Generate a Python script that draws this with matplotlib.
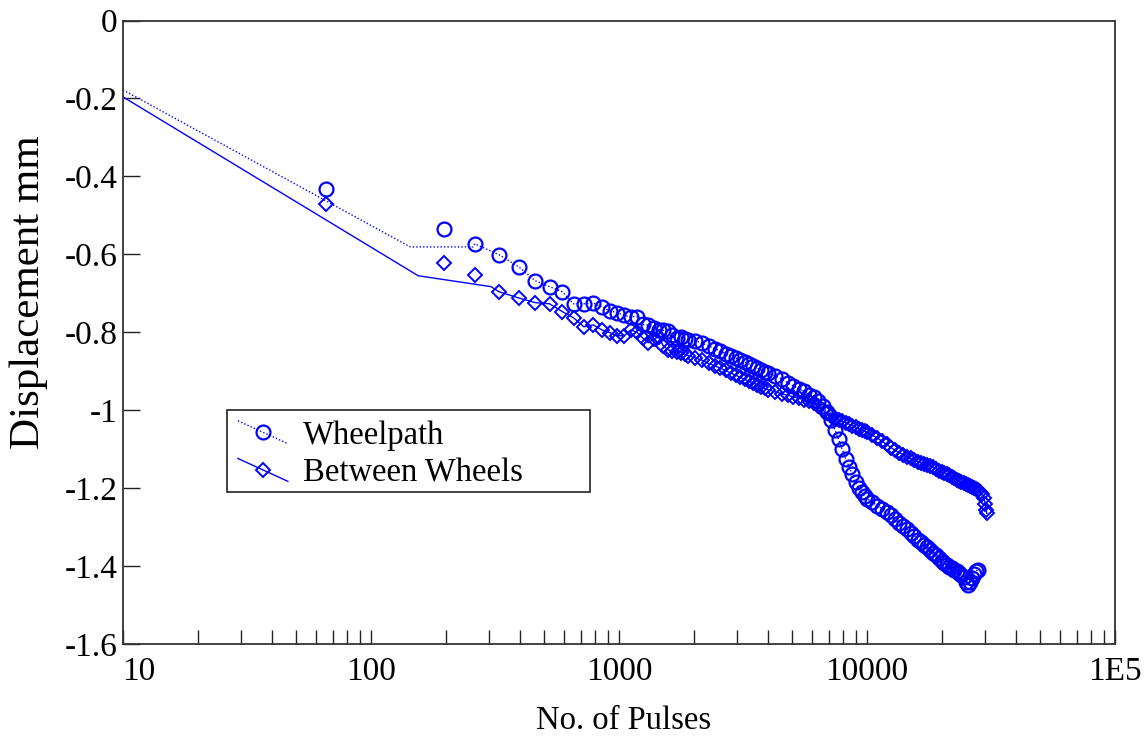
import numpy as np
import matplotlib
matplotlib.use("Agg")
import matplotlib.pyplot as plt
import matplotlib.ticker as mticker
import matplotlib.transforms as mtransforms
from matplotlib.legend_handler import HandlerLine2D
from matplotlib.patches import Rectangle

plt.rcParams["font.family"] = ["Liberation Serif", "DejaVu Serif"]
plt.rcParams["axes.unicode_minus"] = False

BLUE = "#0000ff"

# ---------------------------------------------------------------
# DATA
# ---------------------------------------------------------------
wp_n = [66, 197, 262, 328, 394, 460, 525, 591, 656, 722, 787, 853, 919, 984,
        1050, 1116, 1181, 1247, 1312, 1378, 1444, 1509, 1575, 1640, 1706,
        1772, 1837, 1903, 2034, 2165, 2297, 2428, 2559, 2690, 2822, 2953,
        3084, 3216, 3347, 3478, 3609, 3741, 3872, 4003, 4266, 4528, 4791,
        5053, 5316, 5578, 5841, 6103, 6366, 6628, 6891, 7153, 7416, 7678,
        7941, 8203, 8466, 8728, 8991, 9253, 9516, 9778, 10041, 10500, 11000,
        11500, 12000, 12500, 13000, 13500, 14000, 14500, 15000, 15500, 16000,
        16500, 17000, 17500, 18000, 18500, 19000, 19500, 20000, 20500, 21000,
        21500, 22000, 22500, 23000, 23500, 24000, 24500, 25000, 25500, 26000,
        26500, 27000, 27500, 28000]
wp_d = [-0.432, -0.535, -0.573, -0.601, -0.632, -0.668, -0.683, -0.696,
        -0.727, -0.727, -0.725, -0.735, -0.745, -0.750, -0.757, -0.760,
        -0.760, -0.780, -0.782, -0.790, -0.793, -0.795, -0.797, -0.808,
        -0.815, -0.813, -0.818, -0.820, -0.822, -0.828, -0.835, -0.842,
        -0.848, -0.855, -0.862, -0.866, -0.872, -0.877, -0.882, -0.886,
        -0.892, -0.897, -0.902, -0.905, -0.912, -0.920, -0.930, -0.938,
        -0.945, -0.952, -0.960, -0.967, -0.977, -0.990, -1.005, -1.025,
        -1.050, -1.075, -1.100, -1.125, -1.145, -1.165, -1.185, -1.200,
        -1.210, -1.220, -1.228, -1.236, -1.245, -1.253, -1.262, -1.268,
        -1.280, -1.290, -1.298, -1.306, -1.315, -1.322, -1.332, -1.338,
        -1.346, -1.352, -1.358, -1.366, -1.372, -1.380, -1.387, -1.393,
        -1.398, -1.403, -1.405, -1.411, -1.412, -1.418, -1.422, -1.428,
        -1.440, -1.448, -1.440, -1.430, -1.420, -1.412, -1.410]

bw_n = [66, 197, 262, 328, 394, 460, 525, 591, 656, 722, 787, 853, 919, 984,
        1050, 1116, 1181, 1247, 1312, 1378, 1444, 1509, 1575, 1640, 1706,
        1772, 1837, 1903, 2034, 2165, 2297, 2428, 2559, 2690, 2822, 2953,
        3084, 3216, 3347, 3478, 3609, 3741, 3872, 4003, 4266, 4528, 4791,
        5053, 5316, 5578, 5841, 6103, 6366, 6628, 6891, 7153, 7416, 7678,
        7941, 8203, 8466, 8728, 8991, 9253, 9516, 9778, 10041, 10500, 11000,
        11500, 12000, 12500, 13000, 13500, 14000, 14500, 15000, 15500, 16000,
        16500, 17000, 17500, 18000, 18500, 19000, 19500, 20000, 20500, 21000,
        21500, 22000, 22500, 23000, 23500, 24000, 24500, 25000, 25500, 26000,
        26500, 27000, 27500, 28000, 28500, 29000, 29500, 30000, 30200, 30400]
bw_d = [-0.471, -0.622, -0.653, -0.696, -0.712, -0.724, -0.727, -0.747,
        -0.763, -0.786, -0.781, -0.794, -0.801, -0.809, -0.809, -0.794,
        -0.800, -0.815, -0.827, -0.818, -0.812, -0.835, -0.845, -0.848,
        -0.850, -0.852, -0.856, -0.860, -0.866, -0.872, -0.880, -0.886,
        -0.892, -0.898, -0.905, -0.910, -0.916, -0.921, -0.926, -0.930,
        -0.935, -0.940, -0.944, -0.948, -0.953, -0.958, -0.962, -0.966,
        -0.970, -0.973, -0.977, -0.981, -0.990, -1.000, -1.008, -1.014,
        -1.020, -1.024, -1.028, -1.032, -1.036, -1.040, -1.044, -1.048,
        -1.051, -1.054, -1.057, -1.064, -1.071, -1.080, -1.088, -1.096,
        -1.103, -1.109, -1.114, -1.119, -1.124, -1.128, -1.132, -1.135,
        -1.137, -1.140, -1.142, -1.146, -1.150, -1.155, -1.158, -1.161,
        -1.164, -1.167, -1.171, -1.175, -1.179, -1.183, -1.185, -1.188,
        -1.190, -1.192, -1.195, -1.198, -1.200, -1.203, -1.206, -1.210,
        -1.215, -1.225, -1.240, -1.255, -1.265]

# leading line segments (line does not pass through the first markers)
wp_lead_n = [10, 144, 258]
wp_lead_d = [-0.178, -0.581, -0.581]
bw_lead_n = [10, 155, 305]
bw_lead_d = [-0.196, -0.655, -0.683]

x_ticks = [10, 100, 1000, 10000, 100000]
x_ticklabels = ["10", "100", "1000", "10000", "1E5"]
y_ticks = [0, -0.2, -0.4, -0.6, -0.8, -1.0, -1.2, -1.4, -1.6]
y_ticklabels = ["0", "-0.2", "-0.4", "-0.6", "-0.8", "-1", "-1.2", "-1.4", "-1.6"]

# ---------------------------------------------------------------
# FIGURE
# ---------------------------------------------------------------
fig = plt.figure(figsize=(11.48, 7.38), dpi=100, facecolor="white")
ax = fig.add_axes([0.1071, 0.1274, 0.8642, 0.8448])

wp_line_n = wp_lead_n + [n for n in wp_n if n >= 262]
wp_line_d = wp_lead_d + [d for n, d in zip(wp_n, wp_d) if n >= 262]
bw_line_n = bw_lead_n + [n for n in bw_n if n >= 328]
bw_line_d = bw_lead_d + [d for n, d in zip(bw_n, bw_d) if n >= 328]

CIRC = dict(marker="o", ms=10, mfc="none", mec=BLUE, mew=1.6)
DIAM = dict(marker="D", ms=7, mfc="none", mec=BLUE, mew=1.4)
DOT = (0, (1, 1.5))

ax.plot(wp_line_n, wp_line_d, color=BLUE, lw=1.0, ls=DOT)
ax.plot(bw_line_n, bw_line_d, color=BLUE, lw=1.0, ls="-")
ax.plot(wp_n, wp_d, ls="none", **CIRC)
ax.plot(bw_n, bw_d, ls="none", **DIAM)

ax.set_xscale("log")
ax.set_xlim(10, 1e5)
ax.set_ylim(-1.6, 0)

ax.xaxis.set_major_locator(mticker.FixedLocator(x_ticks))
ax.xaxis.set_major_formatter(mticker.FixedFormatter(x_ticklabels))
ax.xaxis.set_minor_locator(mticker.LogLocator(base=10, subs=np.arange(2, 10)))
ax.xaxis.set_minor_formatter(mticker.NullFormatter())
ax.yaxis.set_major_locator(mticker.FixedLocator(y_ticks))
ax.yaxis.set_major_formatter(mticker.FixedFormatter(y_ticklabels))

ax.tick_params(axis="both", which="both", direction="in", top=False, right=False,
               width=1.0, color="#222222", labelsize=24)
ax.tick_params(axis="y", which="major", length=12, pad=4)
ax.tick_params(axis="x", which="both", length=10, pad=9)
for sp in ax.spines.values():
    sp.set_linewidth(1.3)
    sp.set_edgecolor("#333333")

# nudge the first x label to the right (as in the original)
first = ax.get_xticklabels()[0]
first.set_transform(first.get_transform() +
                    mtransforms.ScaledTranslation(16 / 100, 0, fig.dpi_scale_trans))

ax.set_xlabel("No. of Pulses", fontsize=23.5)
ax.xaxis.set_label_coords(0.505, -0.098)
ax.set_ylabel("Displacement mm", fontsize=31)
ax.yaxis.set_label_coords(-0.076, 0.565)


# legend with slanted handle lines
class SlantHandler(HandlerLine2D):
    def create_artists(self, legend, orig_handle, xdescent, ydescent,
                       width, height, fontsize, trans):
        arts = super().create_artists(legend, orig_handle, xdescent, ydescent,
                                      width, height, fontsize, trans)
        ln = arts[0]
        mid = (height - ydescent) / 2
        ln.set_ydata([mid + 0.5 * height, mid, mid - 0.5 * height])
        return arts


h1, = ax.plot([], [], color=BLUE, lw=1.0, ls=DOT, **CIRC)
h2, = ax.plot([], [], color=BLUE, lw=1.0, ls="-", **DIAM)
leg = ax.legend([h1, h2], ["Wheelpath", "Between Wheels"], loc="upper left",
                bbox_to_anchor=(0.1159, 0.359), borderaxespad=0, borderpad=0,
                frameon=False, fontsize=23.5, numpoints=1, handlelength=1.53,
                handletextpad=0.46, labelspacing=0.22,
                handler_map={h1: SlantHandler(), h2: SlantHandler()})

ax.add_patch(Rectangle((0.1048, 0.2438), 0.366, 0.1315, transform=ax.transAxes,
                       fill=False, edgecolor="#222222", lw=1.2, zorder=5))

fig.savefig("out.png", dpi=100, facecolor="white")
